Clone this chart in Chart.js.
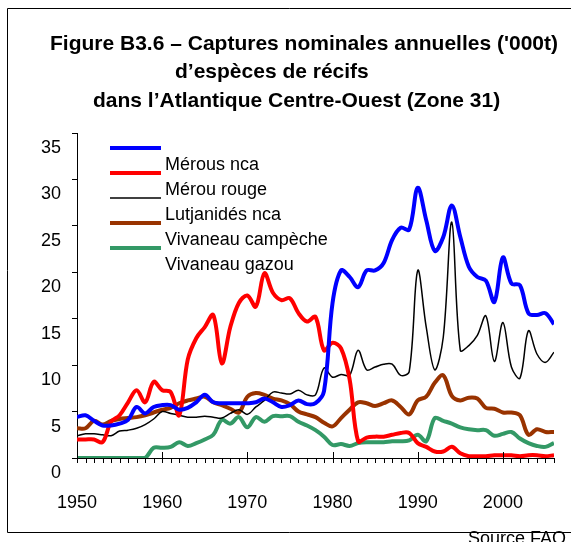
<!DOCTYPE html>
<html>
<head>
<meta charset="utf-8">
<script src="https://cdn.jsdelivr.net/npm/chart.js@4"></script>
<style>
  html, body { margin: 0; padding: 0; background: #fff; }
  #wrap { width: 571px; height: 542px; }
</style>
</head>
<body>
<div id="wrap"><canvas id="chart" width="571" height="542"></canvas></div>
<script>
// Captures nominales annuelles ('000t), Atlantique Centre-Ouest, 1950-2006
const years = [1950, 1951, 1952, 1953, 1954, 1955, 1956, 1957, 1958, 1959,
  1960, 1961, 1962, 1963, 1964, 1965, 1966, 1967, 1968, 1969,
  1970, 1971, 1972, 1973, 1974, 1975, 1976, 1977, 1978, 1979,
  1980, 1981, 1982, 1983, 1984, 1985, 1986, 1987, 1988, 1989,
  1990, 1991, 1992, 1993, 1994, 1995, 1996, 1997, 1998, 1999,
  2000, 2001, 2002, 2003, 2004, 2005, 2006];

const merousNca = [4.4, 4.6, 4.0, 3.5, 3.5, 3.7, 4.1, 5.5, 4.8, 5.5,
  5.7, 5.7, 5.2, 5.4, 6.0, 6.8, 6.0, 5.9, 5.9, 5.9,
  5.9, 6.0, 6.4, 6.0, 5.5, 5.7, 6.2, 5.8, 5.9, 7.2,
  16.7, 20.2, 19.5, 18.4, 20.2, 20.2, 21.0, 23.5, 24.8, 24.6,
  29.1, 25.6, 22.3, 23.8, 27.2, 23.8, 20.6, 19.5, 19.1, 16.8,
  21.6, 18.8, 18.6, 15.6, 15.4, 15.6, 14.4];

const merouRouge = [2.0, 2.0, 2.0, 1.7, 3.9, 4.6, 6.0, 7.3, 6.0, 8.2,
  7.3, 7.1, 4.6, 10.6, 12.9, 14.1, 15.4, 10.2, 14.1, 16.7,
  17.5, 16.3, 19.9, 17.8, 17.0, 17.2, 15.6, 14.7, 15.2, 11.6,
  12.4, 11.8, 8.5, 1.8, 2.2, 2.3, 2.3, 2.5, 2.7, 2.7,
  1.6, 1.2, 0.7, 0.7, 1.2, 0.5, 0.2, 0.2, 0.2, 0.3,
  0.3, 0.3, 0.2, 0.3, 0.3, 0.2, 0.3];

const lutjanidesNca = [2.4, 2.6, 2.6, 2.5, 2.4, 2.9, 3.0, 3.2, 3.6, 4.2,
  5.0, 4.8, 4.6, 4.4, 4.4, 4.5, 4.4, 4.3, 4.8, 5.2,
  4.7, 5.5, 6.2, 7.1, 7.0, 6.9, 7.3, 6.8, 6.8, 9.7,
  8.7, 9.0, 8.9, 11.6, 9.5, 9.8, 10.1, 10.1, 8.9, 9.3,
  20.2, 14.1, 9.5, 13.0, 25.4, 11.6, 12.1, 13.2, 15.3, 10.4,
  14.6, 9.8, 8.6, 13.7, 11.2, 10.3, 11.4];

const vivCampeche = [3.2, 3.2, 4.0, 3.6, 4.0, 4.2, 4.3, 4.4, 4.6, 4.9,
  5.2, 5.4, 5.9, 6.2, 6.4, 6.6, 6.0, 5.7, 5.3, 4.9,
  6.6, 7.0, 6.8, 6.4, 6.2, 5.8, 5.0, 4.7, 4.4, 3.8,
  3.4, 4.3, 5.2, 6.0, 5.9, 5.6, 5.9, 6.2, 5.5, 4.7,
  6.2, 6.6, 8.1, 8.9, 6.7, 6.2, 6.5, 6.4, 5.4, 5.3,
  4.9, 4.9, 4.6, 2.5, 3.1, 2.8, 2.8];

const vivGazou = [0, 0, 0, 0, 0, 0, 0, 0, 0, 1.1,
  1.1, 1.2, 1.7, 1.3, 1.6, 2.0, 2.5, 4.1, 3.7, 4.4,
  3.3, 4.4, 3.9, 4.5, 4.5, 4.5, 3.9, 3.5, 3.0, 2.3,
  1.4, 1.5, 1.3, 1.6, 1.7, 1.7, 1.7, 1.8, 1.8, 1.9,
  2.5, 1.8, 4.3, 4.0, 3.7, 3.3, 3.1, 3.0, 3.0, 2.4,
  2.6, 2.8, 2.1, 1.6, 1.3, 1.2, 1.6];

const seriesNames = ["Mérous nca", "Mérou rouge", "Lutjanidés nca", "Vivaneau campèche", "Vivaneau gazou"];
const titleLines = ["Figure B3.6 – Captures nominales annuelles ('000t)", "d’espèces de récifs", "dans l’Atlantique Centre-Ouest (Zone 31)"];
const yTicks = [0, 5, 10, 15, 20, 25, 30, 35];
const sourceText = "Source FAO";

const FONT = '"Liberation Sans", Arial, sans-serif';

function pts(vals) {
  return vals.map((v, i) => ({ x: years[i], y: v }));
}

function makeSet(label, vals, color, width) {
  return {
    label: label,
    data: pts(vals),
    borderColor: color,
    backgroundColor: color,
    borderWidth: width,
    pointRadius: 0,
    tension: 0.35,
    fill: false
  };
}

// title, frame, minor ticks, legend, source note
const decor = {
  id: "decor",
  afterDraw(chart) {
    const ctx = chart.ctx;
    const xs = chart.scales.x;
    const ys = chart.scales.y;
    ctx.save();

    // frame
    ctx.strokeStyle = "#000";
    ctx.lineWidth = 1;
    ctx.beginPath();
    ctx.moveTo(571, 8.5);
    ctx.lineTo(7.5, 8.5);
    ctx.lineTo(7.5, 532.5);
    ctx.lineTo(571, 532.5);
    ctx.stroke();

    // title
    ctx.fillStyle = "#000";
    ctx.font = "bold 21px " + FONT;
    ctx.textAlign = "left";
    ctx.textBaseline = "alphabetic";
    ctx.fillText(titleLines[0], 50, 50);
    ctx.fillText(titleLines[1], 175, 78);
    ctx.fillText(titleLines[2], 93, 107);

    // year ticks on the x axis
    ctx.beginPath();
    years.forEach((yr) => {
      const px = Math.round(xs.getPixelForValue(yr)) + 0.5;
      const major = yr % 10 === 0;
      ctx.moveTo(px, ys.bottom - (major ? 6 : 0));
      ctx.lineTo(px, ys.bottom + 5);
    });
    ctx.stroke();

    // legend (Excel-style, labels sit between the line samples)
    ctx.font = "18px " + FONT;
    chart.data.datasets.forEach((ds, i) => {
      const ly = 148 + i * 25;
      ctx.strokeStyle = ds.borderColor;
      ctx.lineWidth = ds.borderWidth;
      ctx.beginPath();
      ctx.moveTo(110, ly);
      ctx.lineTo(161, ly);
      ctx.stroke();
      ctx.fillStyle = "#000";
      ctx.fillText(ds.label, 165, 170 + i * 25);
    });

    // source
    ctx.font = "18px " + FONT;
    ctx.fillText(sourceText, 468, 544);
    ctx.restore();
  }
};

new Chart(document.getElementById("chart").getContext("2d"), {
  type: "line",
  data: {
    datasets: [
      makeSet(seriesNames[0], merousNca, "#0000ff", 4),
      makeSet(seriesNames[1], merouRouge, "#ff0000", 4),
      makeSet(seriesNames[2], lutjanidesNca, "#000000", 1.5),
      makeSet(seriesNames[3], vivCampeche, "#993300", 4),
      makeSet(seriesNames[4], vivGazou, "#339966", 4)
    ]
  },
  options: {
    responsive: false,
    animation: false,
    layout: { padding: { left: 0, top: 133, right: 17, bottom: 20 } },
    plugins: {
      legend: { display: false },
      title: { display: false },
      tooltip: { enabled: false }
    },
    scales: {
      x: {
        type: "linear",
        min: years[0],
        max: years[years.length - 1],
        afterFit: (s) => { s.height = 64; },
        border: { color: "#000", width: 1 },
        grid: { display: true, drawOnChartArea: false, drawTicks: false, color: "transparent" },
        ticks: {
          stepSize: 10,
          includeBounds: false,
          padding: 34,
          color: "#000",
          font: { family: FONT, size: 18 },
          maxRotation: 0,
          callback: (v) => String(v)
        }
      },
      y: {
        min: yTicks[0],
        max: yTicks[yTicks.length - 1],
        afterFit: (s) => { s.width = 77; },
        afterBuildTicks: (s) => { s.ticks = yTicks.map((v) => ({ value: v })); },
        border: { color: "#000", width: 1 },
        grid: { drawOnChartArea: false, drawTicks: true, tickLength: 5, color: "#000" },
        ticks: {
          padding: 11,
          labelOffset: 15,
          color: "#000",
          font: { family: FONT, size: 18 }
        }
      }
    }
  },
  plugins: [decor]
});
</script>
</body>
</html>
